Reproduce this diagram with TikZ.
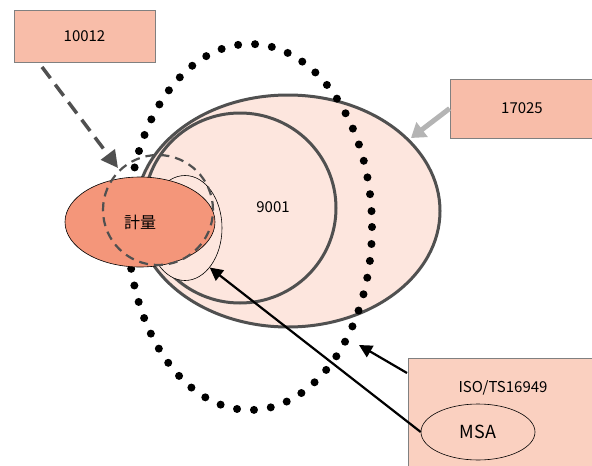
\documentclass[tikz,border=0pt]{standalone}
\usepackage{fontspec}
\setmainfont{Noto Sans CJK KR}
\usetikzlibrary{shapes.geometric,arrows.meta}
\definecolor{boxfill}{HTML}{F8BDA9}
\definecolor{isofill}{HTML}{FAD0C0}
\definecolor{paleset}{HTML}{FDE6DE}
\definecolor{measure}{HTML}{F4967A}
\definecolor{rim}{HTML}{505050}
\definecolor{lightarrow}{HTML}{B4B4B4}
\tikzset{
  stdbox/.style={draw=gray, line width=0.8pt, fill=boxfill, rectangle, inner sep=0pt, font=\fontsize{15}{17}\selectfont},
  setoval/.style={ellipse, draw=rim, line width=3pt, fill=paleset, inner sep=0pt},
  thinoval/.style={ellipse, draw=black, line width=0.6pt, inner sep=0pt},
  bigdots/.style={draw=black, line width=8pt, line cap=round, dash pattern=on 0pt off 17pt},
  pointer/.style={-{Triangle[length=13pt,width=13pt]}, line width=2.2pt, black},
}
\begin{document}
\begin{tikzpicture}[x=1pt,y=-1pt]
\useasboundingbox (0,0) rectangle (592,466);

% nested standard sets
\node[setoval, minimum width=304pt, minimum height=232pt] (outer) at (288,211) {};
\node[setoval, minimum width=192pt, minimum height=190pt] (inner) at (240,208) {};
\node[font=\fontsize{15}{17}\selectfont] (l9001) at (273,207) {9001};

% wide dotted boundary
\draw[bigdots] (250,227) ellipse [x radius=122, y radius=183];

% small circle and the measurement oval
\node[thinoval, fill=paleset, minimum width=74pt, minimum height=105pt] (sm) at (185,228) {};
\node[thinoval, fill=measure, minimum width=150pt, minimum height=90pt, font=\fontsize{16}{18}\selectfont] (meas) at (140,222) {計量};
\node[circle, draw=rim, line width=2.2pt, dash pattern=on 9pt off 6pt, minimum size=110pt, inner sep=0pt] (dash) at (158,210) {};

% labelled boxes
\node[stdbox, minimum width=141pt, minimum height=52pt] (b10012) at (84.5,36) {10012};
\node[stdbox, minimum width=144pt, minimum height=59pt] (b17025) at (522,108.5) {17025};
\node[stdbox, fill=isofill, draw=gray, minimum width=186pt, minimum height=110pt] (iso) at (501,413) {};
\node[font=\fontsize{15}{17}\selectfont] (isolabel) at (503,388) {ISO/TS16949};
\node[thinoval, fill=isofill, minimum width=114pt, minimum height=56pt, font=\fontsize{18}{20}\selectfont] (msa) at (478,432) {MSA};

% connectors
\coordinate (d0) at (42,67);
\coordinate (d1) at (118,168);
\draw[rim, line width=3.5pt, dash pattern=on 14pt off 8pt, -{Triangle[length=17pt,width=17pt]}] (d0) -- (d1);

\coordinate (g1) at (411,138);
\draw[lightarrow, line width=5pt, -{Triangle[length=14pt,width=18pt]}] (b17025.west) -- (g1);

\coordinate (i0) at (407,373);
\coordinate (i1) at (359,345);
\draw[pointer] (i0) -- (i1);

\draw[pointer] (msa.west) -- (sm.-58);
\end{tikzpicture}
\end{document}
